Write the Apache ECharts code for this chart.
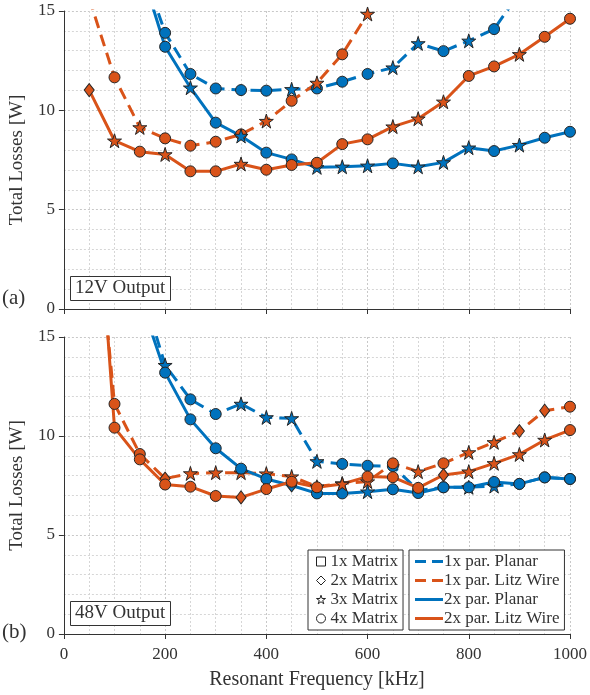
<!DOCTYPE html>
<html>
<head>
<meta charset="utf-8">
<script src="https://cdn.jsdelivr.net/npm/echarts@6/dist/echarts.min.js"></script>
<style>
  html, body { margin: 0; padding: 0; background: #fff; }
  #main { width: 590px; height: 695px; }
</style>
</head>
<body>
<div id="main"></div>
<script>
// resonant frequency [kHz]
var freq = [50, 100, 150, 200, 250, 300, 350, 400, 450, 500,
            550, 600, 650, 700, 750, 800, 850, 900, 950, 1000];

// (a) 12V output - total losses [W]
var planar1_12 = [null, null, 17.6, 13.9, 11.83, 11.1, 11.02, 10.99, 11.06, 11.1,
                  11.44, 11.83, 12.15, 13.37, 12.98, 13.5, 14.09, 15.9, null, null];
var litz1_12   = [15.63, 11.66, 9.14, 8.59, 8.22, 8.42, 8.79, 9.46, 10.48, 11.38,
                  12.82, 14.85, null, null, null, null, null, null, null, null];
var planar2_12 = [null, null, 17.3, 13.2, 11.14, 9.38, 8.71, 7.87, 7.53, 7.13,
                  7.16, 7.21, 7.33, 7.16, 7.38, 8.12, 7.95, 8.25, 8.62, 8.92];
var litz2_12   = [11.02, 8.47, 7.92, 7.78, 6.93, 6.93, 7.3, 7.01, 7.25, 7.36,
                  8.3, 8.54, 9.18, 9.58, 10.43, 11.73, 12.21, 12.82, 13.7, 14.61];

// (b) 48V output - total losses [W]
var planar1_48 = [null, null, 17.8, 13.58, 11.85, 11.11, 11.62, 10.94, 10.89, 8.72,
                  8.59, 8.5, 8.48, 7.25, 7.41, 7.41, 7.47, 7.58, 7.91, 7.83];
var litz1_48   = [25, 11.62, 9.09, 7.85, 8.11, 8.15, 8.15, 8.1, 7.95, 7.44,
                  7.6, 7.7, 8.62, 8.2, 8.62, 9.17, 9.68, 10.25, 11.28, 11.48];
var planar2_48 = [null, null, 17.0, 13.2, 10.84, 9.38, 8.35, 7.83, 7.5, 7.1,
                  7.1, 7.19, 7.31, 7.12, 7.41, 7.41, 7.68, 7.58, 7.91, 7.83];
var litz2_48   = [28, 10.42, 8.82, 7.55, 7.44, 6.97, 6.9, 7.32, 7.69, 7.41,
                  7.58, 7.95, 7.92, 7.38, 8.03, 8.2, 8.62, 9.07, 9.8, 10.3];

// optimal number of matrix transformers at each point (1x..4x)
var planar1_12_mx = [0, 0, 4, 4, 4, 4, 4, 4, 3, 4, 4, 4, 3, 3, 4, 3, 4, 4, 0, 0];
var litz1_12_mx   = [4, 4, 3, 4, 4, 4, 4, 3, 4, 3, 4, 3, 0, 0, 0, 0, 0, 0, 0, 0];
var planar2_12_mx = [0, 0, 4, 4, 3, 4, 3, 4, 4, 3, 3, 3, 4, 3, 3, 3, 4, 3, 4, 4];
var litz2_12_mx   = [2, 3, 4, 3, 4, 4, 3, 4, 4, 4, 4, 4, 3, 3, 3, 4, 4, 3, 4, 4];
var planar1_48_mx = [0, 0, 3, 3, 4, 4, 3, 3, 3, 3, 4, 4, 4, 4, 4, 3, 3, 4, 4, 4];
var litz1_48_mx   = [4, 4, 4, 2, 3, 3, 3, 3, 3, 3, 3, 3, 4, 3, 4, 3, 3, 2, 2, 4];
var planar2_48_mx = [0, 0, 4, 4, 4, 4, 4, 4, 2, 4, 4, 3, 4, 4, 4, 4, 4, 4, 4, 4];
var litz2_48_mx   = [4, 4, 4, 4, 4, 4, 2, 4, 4, 4, 3, 4, 4, 4, 2, 3, 3, 3, 3, 4];

var matrixNames = ['1x Matrix', '2x Matrix', '3x Matrix', '4x Matrix'];
var lineNames = ['1x par. Planar', '1x par. Litz Wire', '2x par. Planar', '2x par. Litz Wire'];

var BLUE = '#0072BD';
var RED = '#D95319';
var FONT = "'Liberation Serif', 'Times New Roman', serif";
var TXT = '#333';
var STAR = 'path://M50,0 L61.17,34.63 L97.55,34.55 L68.07,55.87 L79.39,90.45 L50,69 L20.61,90.45 L31.93,55.87 L2.45,34.55 L38.83,34.63 Z';
var SYM = { 1: 'rect', 2: 'diamond', 3: STAR, 4: 'circle' };
var SYMSIZE = { 1: 10, 2: [10, 13], 3: 14, 4: 11 };

function points(vals, mats) {
  var out = [];
  for (var i = 0; i < freq.length; i++) {
    if (vals[i] == null) continue;
    out.push({ value: [freq[i], vals[i]], symbol: SYM[mats[i]], symbolSize: SYMSIZE[mats[i]] });
  }
  return out;
}

function lineSeries(name, vals, mats, color, dashed, idx) {
  return {
    name: name,
    type: 'line',
    xAxisIndex: idx,
    yAxisIndex: idx,
    data: points(vals, mats),
    clip: true,
    showAllSymbol: true,
    lineStyle: { color: color, width: 3, type: dashed ? [12, 7] : 'solid' },
    itemStyle: { color: color, borderColor: '#262626', borderWidth: 1 },
    emphasis: { disabled: true },
    animation: false
  };
}

// tick labels go through rich text so the serif face is used
var tickRich = { t: { fontFamily: FONT, fontSize: 17, color: TXT } };
function tickFmt(v) { return '{t|' + v + '}'; }

function xAxis(idx, withLabels) {
  return {
    type: 'value', gridIndex: idx, min: 0, max: 1000, interval: 200,
    axisLine: { show: true, onZero: false, lineStyle: { color: '#333', width: 1 } },
    axisTick: { show: true, length: 5, lineStyle: { color: '#333' } },
    axisLabel: { show: withLabels, fontFamily: FONT, fontSize: 17, color: TXT, margin: 12,
                 formatter: tickFmt, rich: tickRich },
    splitLine: { show: true, lineStyle: { color: '#c8c8c8', type: [2, 2], width: 1 } },
    minorTick: { show: false, splitNumber: 4 },
    minorSplitLine: { show: true, lineStyle: { color: '#d6d6d6', type: [2, 2], width: 1 } },
    name: withLabels ? 'Resonant Frequency [kHz]' : '',
    nameLocation: 'middle', nameGap: 36,
    nameTextStyle: { fontFamily: FONT, fontSize: 20, color: TXT }
  };
}

function yAxis(idx) {
  return {
    type: 'value', gridIndex: idx, min: 0, max: 15, interval: 5,
    axisLine: { show: true, lineStyle: { color: '#333', width: 1 } },
    axisTick: { show: true, length: 5, lineStyle: { color: '#333' } },
    axisLabel: { fontFamily: FONT, fontSize: 17, color: TXT, margin: 9,
                 formatter: tickFmt, rich: tickRich },
    splitLine: { show: true, lineStyle: { color: '#c8c8c8', type: [2, 2], width: 1 } },
    minorTick: { show: false, splitNumber: 5 },
    minorSplitLine: { show: true, lineStyle: { color: '#d6d6d6', type: [2, 2], width: 1 } },
    name: 'Total Losses [W]', nameLocation: 'middle', nameGap: 30,
    nameTextStyle: { fontFamily: FONT, fontSize: 19, color: TXT }
  };
}

function boxTitle(text, top) {
  return {
    text: text, left: 70, top: top,
    backgroundColor: '#fff', borderColor: '#333', borderWidth: 1,
    padding: [3, 5, 3, 5],
    textStyle: { fontFamily: FONT, fontSize: 19, fontWeight: 'normal', color: TXT }
  };
}

var series = [
  lineSeries(lineNames[0], planar1_12, planar1_12_mx, BLUE, true, 0),
  lineSeries(lineNames[1], litz1_12, litz1_12_mx, RED, true, 0),
  lineSeries(lineNames[2], planar2_12, planar2_12_mx, BLUE, false, 0),
  lineSeries(lineNames[3], litz2_12, litz2_12_mx, RED, false, 0),
  lineSeries(lineNames[0], planar1_48, planar1_48_mx, BLUE, true, 1),
  lineSeries(lineNames[1], litz1_48, litz1_48_mx, RED, true, 1),
  lineSeries(lineNames[2], planar2_48, planar2_48_mx, BLUE, false, 1),
  lineSeries(lineNames[3], litz2_48, litz2_48_mx, RED, false, 1)
];
// empty series so the marker legend has entries
matrixNames.forEach(function (n) {
  series.push({ name: n, type: 'line', xAxisIndex: 1, yAxisIndex: 1, data: [],
    itemStyle: { color: '#fff', borderColor: '#222', borderWidth: 1 } });
});

var markerItem = { color: '#fff', borderColor: '#222', borderWidth: 1 };
var DASH = 'path://M0,0H11V3H0Z M17,0H28V3H17Z';
var SOLID = 'path://M0,0H28V3H0Z';

var myChart = echarts.init(document.getElementById('main'), null, { renderer: 'canvas' });
var option = {
  animation: false,
  backgroundColor: '#fff',
  textStyle: { fontFamily: FONT, color: TXT },
  title: [
    { text: '(a)', left: 2, top: 288, padding: 0, textStyle: { fontFamily: FONT, fontSize: 21, fontWeight: 'normal', color: TXT } },
    { text: '(b)', left: 2, top: 622, padding: 0, textStyle: { fontFamily: FONT, fontSize: 21, fontWeight: 'normal', color: TXT } },
    boxTitle('12V Output', 276),
    boxTitle('48V Output', 601)
  ],
  grid: [
    { left: 62, top: 11, width: 508, height: 298 },
    { left: 62, top: 337, width: 508, height: 297 }
  ],
  xAxis: [xAxis(0, false), xAxis(1, true)],
  yAxis: [yAxis(0), yAxis(1)],
  legend: [
    {
      orient: 'vertical', left: 308, top: 550, selectedMode: false,
      padding: [3, 5, 3, 8], itemGap: 2, itemWidth: 9, itemHeight: 9,
      backgroundColor: '#fff', borderColor: '#333', borderWidth: 1,
      textStyle: { fontFamily: FONT, fontSize: 17, color: TXT },
      data: [
        { name: matrixNames[0], icon: 'rect', itemStyle: markerItem },
        { name: matrixNames[1], icon: 'diamond', itemStyle: markerItem },
        { name: matrixNames[2], icon: STAR, itemStyle: markerItem },
        { name: matrixNames[3], icon: 'circle', itemStyle: markerItem }
      ]
    },
    {
      orient: 'vertical', left: 409, top: 550, selectedMode: false,
      padding: [3, 5, 3, 6], itemGap: 2, itemWidth: 28, itemHeight: 3,
      backgroundColor: '#fff', borderColor: '#333', borderWidth: 1,
      textStyle: { fontFamily: FONT, fontSize: 17, color: TXT, padding: [0, 0, 0, -4] },
      data: [
        { name: lineNames[0], icon: DASH, itemStyle: { color: BLUE, borderWidth: 0 } },
        { name: lineNames[1], icon: DASH, itemStyle: { color: RED, borderWidth: 0 } },
        { name: lineNames[2], icon: SOLID, itemStyle: { color: BLUE, borderWidth: 0 } },
        { name: lineNames[3], icon: SOLID, itemStyle: { color: RED, borderWidth: 0 } }
      ]
    }
  ],
  series: series
};
myChart.setOption(option);
</script>
</body>
</html>
